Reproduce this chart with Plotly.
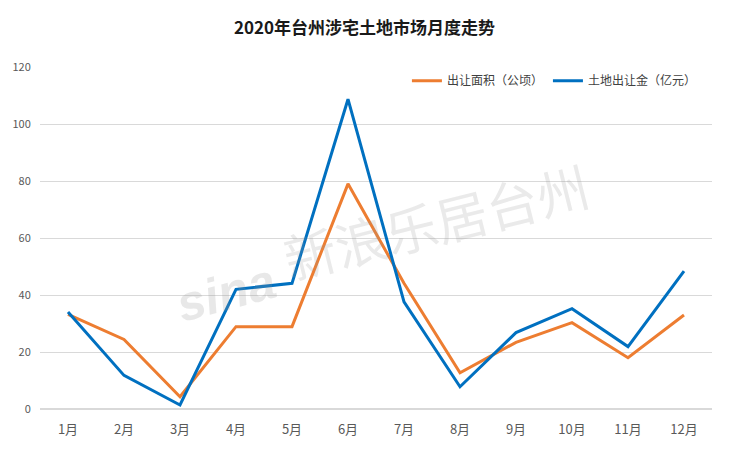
import plotly.graph_objects as go

months = ["1月", "2月", "3月", "4月", "5月", "6月", "7月", "8月", "9月", "10月", "11月", "12月"]
area = [33.2, 24.4, 4.3, 28.9, 28.9, 79.0, 44.1, 12.7, 23.4, 30.3, 18.0, 33.0]
amount = [34.0, 11.8, 1.4, 42.0, 44.1, 108.7, 37.6, 7.8, 26.8, 35.2, 21.9, 48.4]
yticks = [0, 20, 40, 60, 80, 100, 120]

font = "Noto Sans CJK SC, Microsoft YaHei, sans-serif"

fig = go.Figure()
fig.add_trace(go.Scatter(x=months, y=area, mode="lines", name="出让面积（公顷）",
                         line=dict(color="#ED7D31", width=3)))
fig.add_trace(go.Scatter(x=months, y=amount, mode="lines", name="土地出让金（亿元）",
                         line=dict(color="#0070C0", width=3)))

# watermark
fig.add_annotation(x=0.19, y=0.34, xref="paper", yref="paper", text="<b><i>sina</i></b>",
                   showarrow=False, textangle=-15, font=dict(size=50, color="rgba(150,150,150,0.22)", family="Arial"))
fig.add_annotation(x=0.59, y=0.55, xref="paper", yref="paper", text="新浪乐居台州",
                   showarrow=False, textangle=-14, font=dict(size=52, color="rgba(150,150,150,0.20)", family=font))

fig.update_layout(
    width=729, height=456,
    margin=dict(l=35, r=17, t=67, b=47),
    paper_bgcolor="white", plot_bgcolor="white",
    title=dict(text="<b>2020年台州涉宅土地市场月度走势</b>", x=0.5, xanchor="center",
               y=1 - 28 / 456, yanchor="middle", font=dict(size=17, color="#1a1a1a", family=font)),
    legend=dict(orientation="h", x=0.985, xanchor="right", y=0.96, yanchor="middle",
                font=dict(size=12, color="#404040", family=font), bgcolor="rgba(0,0,0,0)",
                itemwidth=30),
    xaxis=dict(range=[-0.5, 11.5], showgrid=False, showline=False, zeroline=False,
               ticks="outside", ticklen=8, tickcolor="rgba(0,0,0,0)",
               tickfont=dict(size=13, color="#595959", family=font)),
    yaxis=dict(range=[0, 120], tickvals=yticks, showgrid=True, gridcolor="#d9d9d9", gridwidth=1,
               zeroline=True, zerolinecolor="#d9d9d9", showline=False,
               ticks="outside", ticklen=6, tickcolor="rgba(0,0,0,0)",
               tickfont=dict(size=11, color="#595959", family=font)),
)

fig.write_html("out.html")
